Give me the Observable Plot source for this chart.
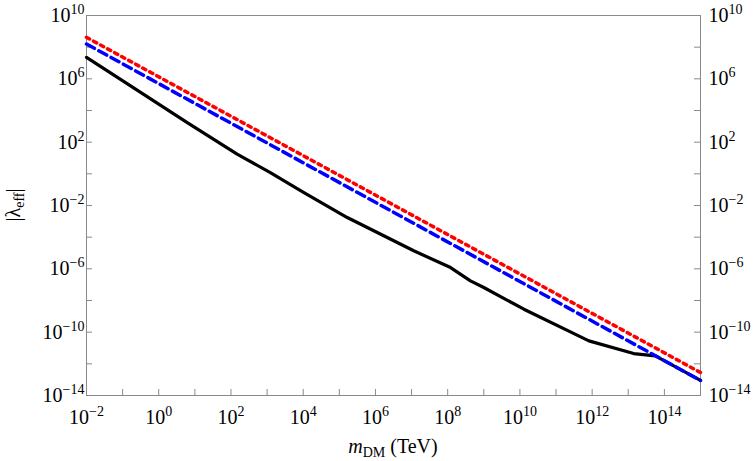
<!DOCTYPE html>
<html>
<head>
<meta charset="utf-8">
<script src="https://cdn.jsdelivr.net/npm/d3@7"></script>
<script src="https://cdn.jsdelivr.net/npm/@observablehq/plot@0.6"></script>
<style>
  html, body { margin: 0; padding: 0; background: #fff; }
  #chart svg { display: block; }
</style>
</head>
<body>
<div id="chart"></div>
<script>
// log10 of m_DM (TeV) and log10 |lambda_eff|
const blackLogM = [-2, -0.78, 0.79, 2.17, 3.09, 4.02, 5.22, 7.06, 8.08, 8.63, 9.0, 10.11, 11.91, 13.15, 13.75, 15];
const blackLogL = [7.35, 5.56, 3.24, 1.24, 0.08, -1.18, -2.76, -4.86, -5.92, -6.76, -7.18, -8.55, -10.55, -11.35, -11.5, -13.05];
const blueLogM = [-2, 15];
const blueLogL = [8.2, -13.05];
const redLogM = [-2, 15];
const redLogL = [8.62, -12.55];

// tick exponents
const xTickExp = [-2, -1, 0, 1, 2, 3, 4, 5, 6, 7, 8, 9, 10, 11, 12, 13, 14, 15];
const xLabelExp = [-2, 0, 2, 4, 6, 8, 10, 12, 14];
const yTickExp = [-14, -12, -10, -8, -6, -4, -2, 0, 2, 4, 6, 8, 10];
const yLabelExp = [-14, -10, -6, -2, 2, 6, 10];

const toPts = (lm, ll) => lm.map((v, i) => ({m: Math.pow(10, v), l: Math.pow(10, ll[i])}));
const black = toPts(blackLogM, blackLogL);
const blue = toPts(blueLogM, blueLogL);
const red = toPts(redLogM, redLogL);

const xTicks = xTickExp.map(e => Math.pow(10, e));
const xLabels = xLabelExp.map(e => Math.pow(10, e));
const yTicks = yTickExp.map(e => Math.pow(10, e));
const yLabels = yLabelExp.map(e => Math.pow(10, e));

const W = 756, H = 461;
const mL = 86, mR = 56, mT = 15, mB = 66;
const frameW = W - mL - mR, frameH = H - mT - mB;
const axisGray = "#8a8a8a";
const serif = "'Liberation Serif', 'Times New Roman', serif";
const fmt = d => "10^" + Math.round(Math.log10(d));

const chart = Plot.plot({
  width: W, height: H,
  marginLeft: mL, marginRight: mR, marginTop: mT, marginBottom: mB,
  style: {fontFamily: serif, fontSize: "20px", color: "#000", background: "#fff"},
  x: {type: "log", domain: [1e-2, 1e15]},
  y: {type: "log", domain: [1e-14, 1e10]},
  marks: [
    Plot.frame({stroke: axisGray, strokeWidth: 1}),
    Plot.tickX(xTicks, {x: d => d, insetTop: frameH - 6, stroke: axisGray}),
    Plot.tickY(yTicks, {y: d => d, insetRight: frameW - 6, stroke: axisGray}),
    Plot.tickY(yTicks, {y: d => d, insetLeft: frameW - 6, stroke: axisGray}),
    Plot.axisX(xLabels, {anchor: "bottom", tickSize: 0, tickPadding: 14, tickFormat: fmt, label: null, fontSize: 20}),
    Plot.axisY(yLabels, {anchor: "left", tickSize: 0, tickPadding: 2, tickFormat: fmt, label: null, fontSize: 20}),
    Plot.axisY(yLabels, {anchor: "right", tickSize: 0, tickPadding: 8, tickFormat: fmt, label: null, fontSize: 20}),
    Plot.line(black, {x: "m", y: "l", stroke: "#000", strokeWidth: 3.2, curve: "linear"}),
    Plot.line(blue, {x: "m", y: "l", stroke: "#0000ff", strokeWidth: 3.5, strokeDasharray: "9,5"}),
    Plot.line(red, {x: "m", y: "l", stroke: "#ff0000", strokeWidth: 3.5, strokeDasharray: "3.5,4.5"})
  ]
});

document.getElementById("chart").appendChild(chart);

// superscript formatting of tick labels
const svg = d3.select(chart);
svg.selectAll("g[aria-label$='tick label'] text").each(function() {
  const t = d3.select(this);
  const s = t.text();
  if (!s.startsWith("10^")) return;
  const e = parseInt(s.slice(3), 10);
  t.text(null);
  t.append("tspan").text("10");
  t.append("tspan").attr("dy", "-8px").style("font-size", "14px")
    .text(e < 0 ? "\u2212" + Math.abs(e) : String(e));
});

// axis labels
const yl = svg.append("text")
  .attr("transform", `translate(20,${mT + frameH / 2}) rotate(-90)`)
  .attr("text-anchor", "middle")
  .style("font-size", "20px")
  .attr("fill", "#000");
yl.append("tspan").text("|\u03bb");
yl.append("tspan").attr("dy", "4px").style("font-size", "14px").text("eff");
yl.append("tspan").attr("dy", "-4px").text("|");

const xl = svg.append("text")
  .attr("x", mL + frameW / 2)
  .attr("y", 453)
  .attr("text-anchor", "middle")
  .style("font-size", "20px")
  .attr("fill", "#000");
xl.append("tspan").style("font-style", "italic").text("m");
xl.append("tspan").attr("dy", "4px").style("font-size", "14px").text("DM");
xl.append("tspan").attr("dy", "-4px").text(" (TeV)");

// force the serif face on every text node
svg.selectAll("text").style("font-family", serif);
svg.selectAll("tspan").style("font-family", serif);
</script>
</body>
</html>
